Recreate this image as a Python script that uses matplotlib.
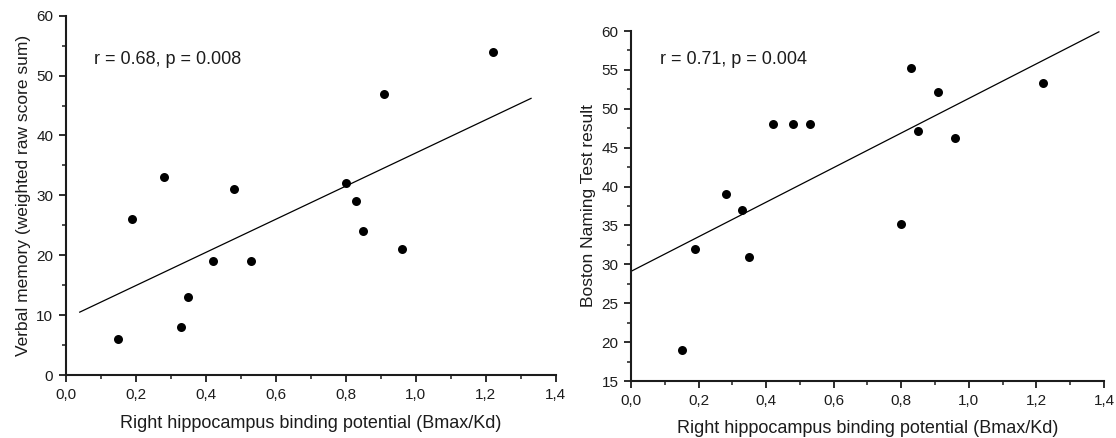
import numpy as np
import matplotlib
matplotlib.use("Agg")
import matplotlib.pyplot as plt
from matplotlib.ticker import MultipleLocator, FuncFormatter

plt.rcParams["font.family"] = ["Liberation Sans", "DejaVu Sans"]

# left panel: verbal memory vs right hippocampus BP
bp_left = [0.15, 0.19, 0.28, 0.33, 0.35, 0.42, 0.48, 0.53, 0.80, 0.83, 0.85, 0.91, 0.96, 1.22]
verbal = [6, 26, 33, 8, 13, 19, 31, 19, 32, 29, 24, 47, 21, 54]
fit_left_x = [0.04, 1.33]
fit_left_y = [10.5, 46.2]

# right panel: Boston Naming Test vs right hippocampus BP
bp_right = [0.15, 0.19, 0.28, 0.33, 0.35, 0.42, 0.48, 0.53, 0.80, 0.83, 0.85, 0.91, 0.96, 1.22]
bnt = [19, 32, 39, 37, 31, 48, 48, 48, 35.2, 55.2, 47.2, 52.2, 46.2, 53.3]
fit_right_x = [0.0, 1.385]
fit_right_y = [29.1, 59.9]

XLABEL = "Right hippocampus binding potential (Bmax/Kd)"
INK = "#1c1c1c"


def comma(v, pos):
    return f"{v:.1f}".replace(".", ",")


def style_axes(ax, ymin, ymax, ymajor, xpad):
    for side in ("top", "right"):
        ax.spines[side].set_visible(False)
    for side in ("left", "bottom"):
        ax.spines[side].set_linewidth(1.5)
        ax.spines[side].set_color(INK)
    ax.set_xlim(0, 1.4)
    ax.set_ylim(ymin, ymax)
    ax.xaxis.set_major_locator(MultipleLocator(0.2))
    ax.xaxis.set_minor_locator(MultipleLocator(0.1))
    ax.xaxis.set_major_formatter(FuncFormatter(comma))
    ax.yaxis.set_major_locator(MultipleLocator(ymajor))
    ax.yaxis.set_minor_locator(MultipleLocator(ymajor / 2))
    ax.tick_params(which="major", direction="out", length=5, width=1.3, color=INK,
                   labelsize=11, labelcolor=INK, pad=4)
    ax.tick_params(which="minor", direction="out", length=3, width=1.1, color=INK)
    ax.set_xlabel(XLABEL, fontsize=13, color=INK, labelpad=xpad)


fig = plt.figure(figsize=(11.16, 4.38), dpi=100)

ax1 = fig.add_axes([0.0589, 0.1438, 0.4389, 0.8203])
ax1.scatter(bp_left, verbal, s=42, color="black", zorder=3, linewidths=0)
ax1.plot(fit_left_x, fit_left_y, color="black", lw=0.9)
style_axes(ax1, 0, 60, 10, 10)
ax1.set_ylabel("Verbal memory (weighted raw score sum)", fontsize=12.5, color=INK, labelpad=4)
ax1.text(0.058, 0.865, "r = 0.68, p = 0.008", transform=ax1.transAxes, fontsize=13,
         color=INK, ha="left", va="baseline")

ax2 = fig.add_axes([0.5654, 0.1301, 0.4238, 0.799])
ax2.scatter(bp_right, bnt, s=42, color="black", zorder=3, linewidths=0)
ax2.plot(fit_right_x, fit_right_y, color="black", lw=0.9)
style_axes(ax2, 15, 60, 5, 9)
ax2.set_ylabel("Boston Naming Test result", fontsize=12.5, color=INK, labelpad=4)
ax2.text(0.061, 0.905, "r = 0.71, p = 0.004", transform=ax2.transAxes, fontsize=13,
         color=INK, ha="left", va="baseline")

fig.savefig("out.png", dpi=100)
